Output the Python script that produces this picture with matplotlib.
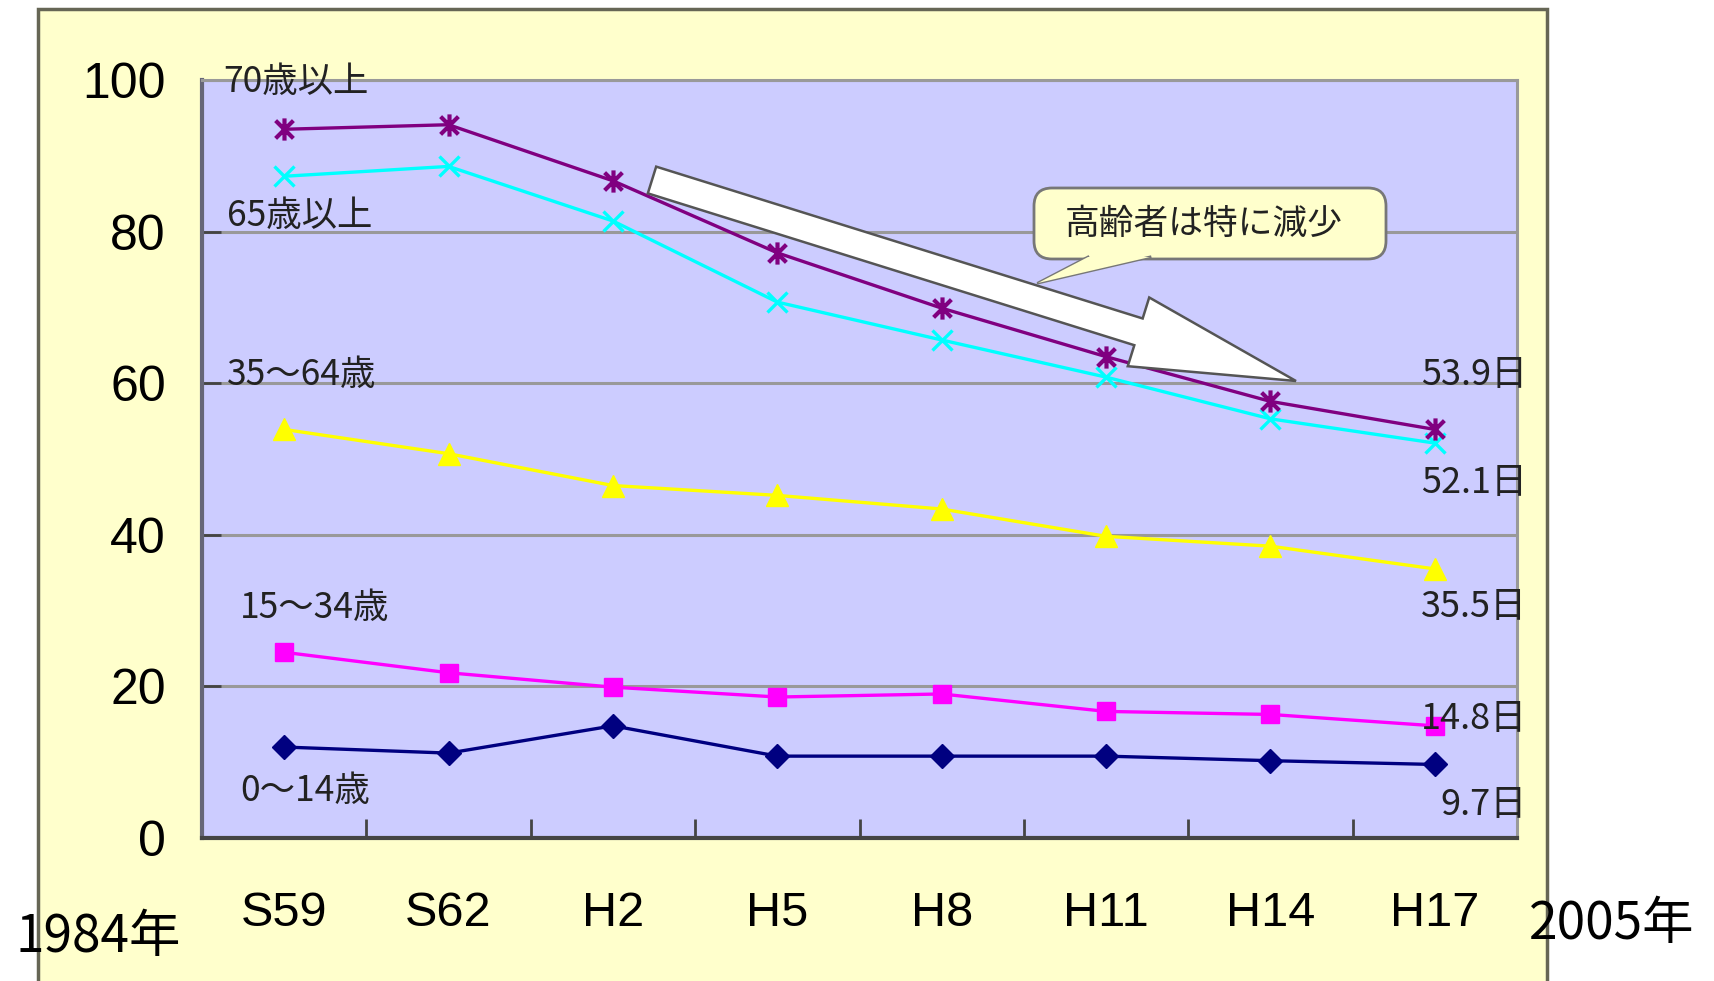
import numpy as np
import matplotlib.pyplot as plt
from matplotlib.patches import Rectangle, FancyArrow, FancyBboxPatch, Polygon
from matplotlib.path import Path
from matplotlib.transforms import IdentityTransform

plt.rcParams['font.family'] = ['Noto Sans CJK JP', 'DejaVu Sans']

# === データ ===
years = ["S59", "S62", "H2", "H5", "H8", "H11", "H14", "H17"]
age70 = [93.5, 94.1, 86.7, 77.2, 69.9, 63.5, 57.6, 53.9]
age65 = [87.3, 88.6, 81.4, 70.7, 65.7, 60.8, 55.3, 52.1]
age35 = [53.9, 50.7, 46.5, 45.2, 43.4, 39.8, 38.5, 35.5]
age15 = [24.5, 21.8, 19.9, 18.6, 19.0, 16.7, 16.3, 14.8]
age0 = [12.0, 11.2, 14.8, 10.8, 10.8, 10.8, 10.2, 9.7]
group_names = ["70歳以上", "65歳以上", "35～64歳", "15～34歳", "0～14歳"]

W, H = 1714, 981
fig = plt.figure(figsize=(W / 100, H / 100), dpi=100)
fig.patch.set_facecolor("white")

# 外側の黄色いパネル
panel = Rectangle((38 / W, -0.05), (1547 - 38) / W, 1 - 9 / H + 0.05,
                  transform=fig.transFigure, facecolor="#FFFFCC",
                  edgecolor="#666655", linewidth=2.5, zorder=-5)
fig.patches.append(panel)

ax = fig.add_axes([202 / W, (H - 838) / H, (1517 - 202) / W, (838 - 80) / H])
ax.set_facecolor("#CCCCFF")

x = np.arange(len(years))
star = Path([(0, -1), (0, 1), (-0.8, -0.8), (0.8, 0.8), (-0.8, 0.8), (0.8, -0.8)],
            [Path.MOVETO, Path.LINETO, Path.MOVETO, Path.LINETO, Path.MOVETO, Path.LINETO])

ax.plot(x, age70, color="#800080", lw=2.4, marker=star, ms=16, mew=3,
        mfc="none", mec="#800080", zorder=5)
ax.plot(x, age65, color="#00FFFF", lw=2.4, marker="x", ms=14, mew=2.4, zorder=4)
ax.plot(x, age35, color="#FFFF00", lw=2.4, marker="^", ms=16, mec="#FFFF00", zorder=4)
ax.plot(x, age15, color="#FF00FF", lw=2.4, marker="s", ms=13, mec="#FF00FF", zorder=4)
ax.plot(x, age0, color="#000080", lw=2.4, marker="D", ms=12, mec="#000080", zorder=4)

ax.set_xlim(-0.5, len(years) - 0.5)
ax.set_ylim(0, 100)
ax.set_yticks([0, 20, 40, 60, 80, 100])
ax.yaxis.grid(True, color="#999999", lw=2.2)
ax.set_axisbelow(True)

ax.set_xticks(x)
ax.set_xticklabels(years)
ax.set_xticks(np.arange(0.5, len(years) - 1), minor=True)
ax.tick_params(axis="x", which="major", length=0, pad=38, labelsize=35)
ax.tick_params(axis="x", which="minor", direction="in", length=14, width=2, color="#444444")
ax.tick_params(axis="y", direction="in", length=14, width=2, color="#444444",
               pad=26, labelsize=36)
for lbl in ax.get_xticklabels() + ax.get_yticklabels():
    lbl.set_family("Liberation Sans")

ax.spines["left"].set_color("#666677")
ax.spines["left"].set_linewidth(3)
ax.spines["bottom"].set_color("#444444")
ax.spines["bottom"].set_linewidth(3)
ax.spines["top"].set_color("#999999")
ax.spines["top"].set_linewidth(2.2)
ax.spines["right"].set_color("#999999")
ax.spines["right"].set_linewidth(2.2)

# 系列ラベル（左）
left_pos = [(-0.37, 99.7), (-0.35, 82.1), (-0.35, 61.1), (-0.27, 30.4), (-0.27, 6.2)]
for name, (lx, ly) in zip(group_names, left_pos):
    ax.text(lx, ly, name, fontsize=25.5, color="#222222", ha="left", va="center", zorder=6)

# 最終値ラベル（右）
last_vals = [age70[-1], age65[-1], age35[-1], age15[-1], age0[-1]]
right_y = [61.1, 46.8, 30.5, 15.7, 4.3]
for v, ry in zip(last_vals, right_y):
    ax.text(7.56, ry, f"{v}日", fontsize=26, color="#222222", ha="right", va="center",
            zorder=6, clip_on=False)

# 大きな矢印（ピクセル座標）
tail = (652, H - 180)
tip = (1296, H - 381)
arrow = FancyArrow(tail[0], tail[1], tip[0] - tail[0], tip[1] - tail[1],
                   width=28, head_width=72, head_length=165, length_includes_head=True,
                   facecolor="white", edgecolor="#555555", lw=1.8,
                   transform=IdentityTransform(), zorder=7)
fig.patches.append(arrow)

# 吹き出し
box = FancyBboxPatch((1034, H - 259), 352, 71, boxstyle="round,pad=0,rounding_size=18",
                     facecolor="#FFFFCC", edgecolor="#777777", lw=2,
                     transform=IdentityTransform(), zorder=8)
fig.patches.append(box)
tail_pts = [(1088, H - 257), (1038, H - 283), (1150, H - 257)]
fig.patches.append(Polygon(tail_pts, closed=True, facecolor="#FFFFCC", edgecolor="none",
                           transform=IdentityTransform(), zorder=9))
fig.lines.append(plt.Line2D([p[0] for p in tail_pts], [p[1] for p in tail_pts],
                            color="#777777", lw=2, transform=IdentityTransform(), zorder=9))
fig.text(1204 / W, 1 - 224 / H, "高齢者は特に減少", fontsize=25, color="#222222",
         ha="center", va="center", zorder=10)

# 年の注記
fig.text(98 / W, 1 - 937 / H, "1984年", fontsize=37, color="black",
         ha="center", va="center")
fig.text(1612 / W, 1 - 924 / H, "2005年", fontsize=37, color="black",
         ha="center", va="center")

fig.savefig("out.png", dpi=100)
